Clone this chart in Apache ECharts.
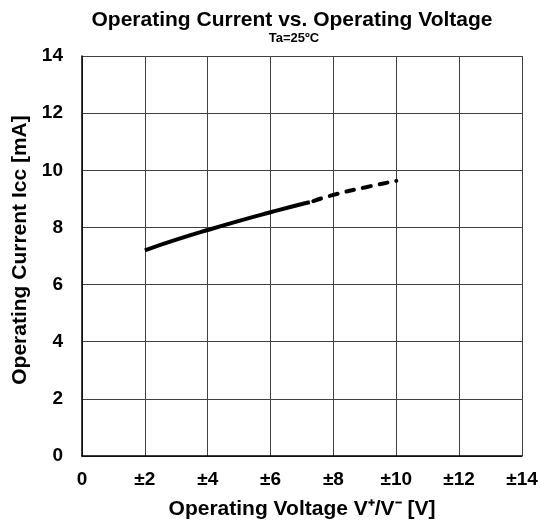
<!DOCTYPE html>
<html><head><meta charset="utf-8">
<script src="https://cdn.jsdelivr.net/npm/echarts@6/dist/echarts.min.js"></script>
<style>html,body{margin:0;padding:0;background:#fff}#c{width:541px;height:528px}</style>
</head><body><div id="c"></div>
<script>
var xTicks = [0, 2, 4, 6, 8, 10, 12, 14];
var yTicks = [0, 2, 4, 6, 8, 10, 12, 14];
var solidX = [2, 3, 4, 5, 6, 7, 7.25];
var solidY = [7.2, 7.57, 7.91, 8.23, 8.53, 8.82, 8.88];
var dashX = [7.25, 8, 9, 10];
var dashY = [8.88, 9.14, 9.4, 9.63];

function pairs(xs, ys) { return xs.map(function (x, i) { return [x, ys[i]]; }); }
var F = 'Liberation Sans, Arial, sans-serif';
var chart = echarts.init(document.getElementById('c'), null, { renderer: 'canvas' });
chart.setOption({
  animation: false,
  backgroundColor: '#fff',
  title: [{
    text: 'Operating Current vs. Operating Voltage',
    left: 287, top: 5, textAlign: 'center',
    textStyle: { fontFamily: F, fontWeight: 'bold', fontSize: 21, color: '#000' }
  }, {
    text: 'Ta=25ºC',
    left: 289, top: 27, textAlign: 'center',
    textStyle: { fontFamily: F, fontWeight: 'bold', fontSize: 13, color: '#000' }
  }],
  grid: { left: 82, right: 19, top: 56, bottom: 72, containLabel: false },
  xAxis: {
    type: 'value', min: 0, max: 14, interval: 2,
    name: 'Operating Voltage V\u207A/V\u207B [V]', nameLocation: 'middle', nameGap: 43,
    nameTextStyle: { fontFamily: F, fontWeight: 'bold', fontSize: 21, color: '#000' },
    axisLine: { show: true, lineStyle: { color: '#000', width: 1.5 } },
    axisTick: { show: false },
    axisLabel: { margin: 14, fontFamily: F, fontWeight: 'bold', fontSize: 19, color: '#000',
      formatter: function (v) { return v === 0 ? '0' : '\u00B1' + v; } },
    splitLine: { show: true, lineStyle: { color: '#404040', width: 1 } }
  },
  yAxis: {
    type: 'value', min: 0, max: 14, interval: 2,
    name: 'Operating Current Icc [mA]', nameLocation: 'middle', nameGap: 43, nameRotate: 90,
    nameTextStyle: { fontFamily: F, fontWeight: 'bold', fontSize: 21, color: '#000', padding: [0, 0, 0, 12] },
    axisLine: { show: true, lineStyle: { color: '#000', width: 1.5 } },
    axisTick: { show: false },
    axisLabel: { margin: 19, fontFamily: F, fontWeight: 'bold', fontSize: 19, color: '#000' },
    splitLine: { show: true, lineStyle: { color: '#404040', width: 1 } }
  },
  series: [
    { type: 'line', data: pairs(solidX, solidY), showSymbol: false, smooth: true,
      lineStyle: { color: '#000', width: 4 } },
    { type: 'line', data: pairs(dashX, dashY), showSymbol: false, smooth: true,
      lineStyle: { color: '#000', width: 4, type: [8, 9], dashOffset: 13, cap: 'round' } }
  ]
});
</script></body></html>
